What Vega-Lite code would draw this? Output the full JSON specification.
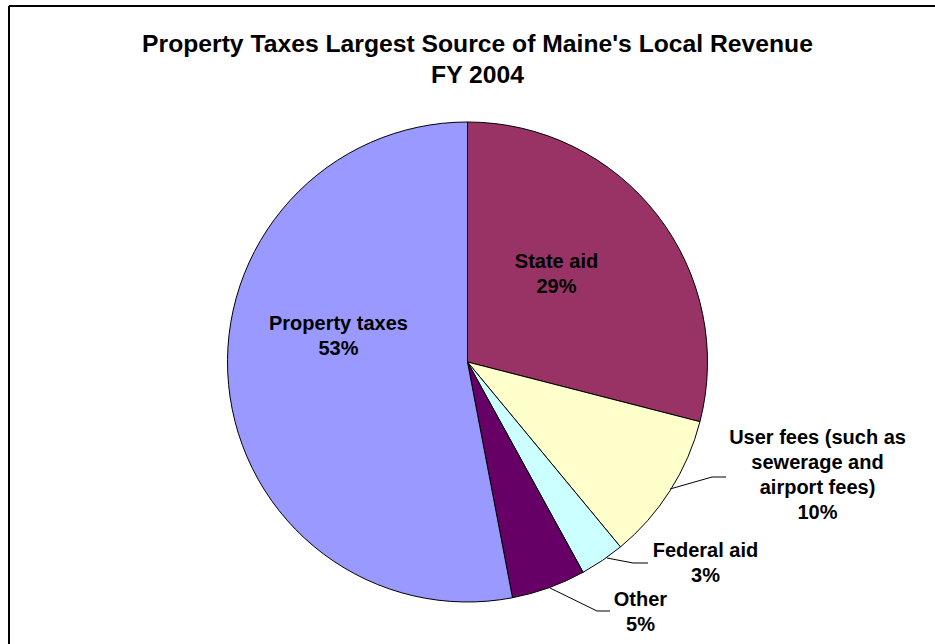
{
  "$schema": "https://vega.github.io/schema/vega-lite/v6.json",
  "width": 926,
  "height": 638,
  "autosize": {"type": "none"},
  "padding": {"left": 9, "top": 6, "right": 0, "bottom": 0},
  "background": "#ffffff",
  "config": {"view": {"stroke": null}, "font": "Liberation Sans"},
  "title": {
    "text": ["Property Taxes Largest Source of Maine's Local Revenue", "FY 2004"],
    "font": "Liberation Sans",
    "fontSize": 24.7,
    "fontWeight": "bold",
    "lineHeight": 31.5,
    "color": "#000000",
    "anchor": "middle",
    "frame": "group",
    "baseline": "bottom",
    "offset": -108,
    "dx": 5.5
  },
  "data": {
    "values": [
      {"category": "State aid", "label": "State aid", "value": 29, "idx": 1},
      {"category": "User fees", "label": "User fees (such as\nsewerage and\nairport fees)", "value": 10, "idx": 2},
      {"category": "Federal aid", "label": "Federal aid", "value": 3, "idx": 3},
      {"category": "Other", "label": "Other", "value": 5, "idx": 4},
      {"category": "Property taxes", "label": "Property taxes", "value": 53, "idx": 5}
    ]
  },
  "transform": [{"calculate": "datum.label + '\\n' + datum.value + '%'", "as": "txt"}],
  "layer": [
    {
      "mark": {"type": "arc", "radius": 240, "stroke": "#000000", "strokeWidth": 1},
      "encoding": {
        "theta": {"field": "value", "type": "quantitative", "stack": true},
        "order": {"field": "idx", "type": "quantitative"},
        "color": {
          "field": "category",
          "type": "nominal",
          "scale": {
            "domain": ["State aid", "User fees", "Federal aid", "Other", "Property taxes"],
            "range": ["#993366", "#FFFFCC", "#CCFFFF", "#660066", "#9999FF"]
          },
          "legend": null
        },
        "x": {"datum": 0, "type": "quantitative", "scale": {"domain": [-1.9104, 1.9479], "nice": false, "zero": false}, "axis": null},
        "y": {"datum": 0, "type": "quantitative", "scale": {"domain": [-1.175, 1.4833], "nice": false, "zero": false}, "axis": null}
      }
    },
    {
      "mark": {"type": "text", "radius": 124.8, "dx": -9.6, "dy": -23.5, "fontSize": 20, "fontWeight": "bold", "lineBreak": "\n", "lineHeight": 25, "align": "center", "baseline": "middle", "fill": "#000000"},
      "encoding": {
        "theta": {"field": "value", "type": "quantitative", "stack": true},
        "order": {"field": "idx", "type": "quantitative"},
        "x": {"datum": 0, "type": "quantitative"},
        "y": {"datum": 0, "type": "quantitative"},
        "text": {"condition": {"test": "datum.category === 'State aid'", "field": "txt"}, "value": ""}
      }
    },
    {
      "mark": {"type": "text", "radius": 131.5, "dx": 1.9, "dy": -50.4, "fontSize": 20, "fontWeight": "bold", "lineBreak": "\n", "lineHeight": 25, "align": "center", "baseline": "middle", "fill": "#000000"},
      "encoding": {
        "theta": {"field": "value", "type": "quantitative", "stack": true},
        "order": {"field": "idx", "type": "quantitative"},
        "x": {"datum": 0, "type": "quantitative"},
        "y": {"datum": 0, "type": "quantitative"},
        "text": {"condition": {"test": "datum.category === 'Property taxes'", "field": "txt"}, "value": ""}
      }
    },
    {
      "mark": {"type": "text", "radius": 368, "dx": 39.3, "dy": -120.9, "fontSize": 20, "fontWeight": "bold", "lineBreak": "\n", "lineHeight": 25, "align": "center", "baseline": "middle", "fill": "#000000"},
      "encoding": {
        "theta": {"field": "value", "type": "quantitative", "stack": true},
        "order": {"field": "idx", "type": "quantitative"},
        "x": {"datum": 0, "type": "quantitative"},
        "y": {"datum": 0, "type": "quantitative"},
        "text": {"condition": {"test": "datum.category === 'User fees'", "field": "txt"}, "value": ""}
      }
    },
    {
      "mark": {"type": "text", "radius": 311.8, "dx": 62.7, "dy": -68.9, "fontSize": 20, "fontWeight": "bold", "lineBreak": "\n", "lineHeight": 25, "align": "center", "baseline": "middle", "fill": "#000000"},
      "encoding": {
        "theta": {"field": "value", "type": "quantitative", "stack": true},
        "order": {"field": "idx", "type": "quantitative"},
        "x": {"datum": 0, "type": "quantitative"},
        "y": {"datum": 0, "type": "quantitative"},
        "text": {"condition": {"test": "datum.category === 'Federal aid'", "field": "txt"}, "value": ""}
      }
    },
    {
      "mark": {"type": "text", "radius": 304, "dx": 70, "dy": -48.5, "fontSize": 20, "fontWeight": "bold", "lineBreak": "\n", "lineHeight": 25, "align": "center", "baseline": "middle", "fill": "#000000"},
      "encoding": {
        "theta": {"field": "value", "type": "quantitative", "stack": true},
        "order": {"field": "idx", "type": "quantitative"},
        "x": {"datum": 0, "type": "quantitative"},
        "y": {"datum": 0, "type": "quantitative"},
        "text": {"condition": {"test": "datum.category === 'Other'", "field": "txt"}, "value": ""}
      }
    },
    {
      "data": {"values": [{}]},
      "mark": {"type": "rule", "stroke": "#000000", "strokeWidth": 2},
      "encoding": {"x": {"datum": -1.9104, "type": "quantitative"}, "y": {"datum": -1.175, "type": "quantitative"}, "x2": {"datum": -1.9104}, "y2": {"datum": 1.4833}}
    },
    {
      "data": {"values": [{}]},
      "mark": {"type": "rule", "stroke": "#000000", "strokeWidth": 2},
      "encoding": {"x": {"datum": -1.9104, "type": "quantitative"}, "y": {"datum": 1.4833, "type": "quantitative"}, "x2": {"datum": 1.9479}, "y2": {"datum": 1.4833}}
    },
    {
      "data": {"values": [{}]},
      "mark": {"type": "rule", "stroke": "#000000", "strokeWidth": 1},
      "encoding": {"x": {"datum": 0.8438, "type": "quantitative"}, "y": {"datum": -0.5292, "type": "quantitative"}, "x2": {"datum": 1.0188}, "y2": {"datum": -0.4792}}
    },
    {
      "data": {"values": [{}]},
      "mark": {"type": "rule", "stroke": "#000000", "strokeWidth": 1},
      "encoding": {"x": {"datum": 1.0188, "type": "quantitative"}, "y": {"datum": -0.4792, "type": "quantitative"}, "x2": {"datum": 1.0771}, "y2": {"datum": -0.4792}}
    },
    {
      "data": {"values": [{}]},
      "mark": {"type": "rule", "stroke": "#000000", "strokeWidth": 1},
      "encoding": {"x": {"datum": 0.5813, "type": "quantitative"}, "y": {"datum": -0.8167, "type": "quantitative"}, "x2": {"datum": 0.6896}, "y2": {"datum": -0.8375}}
    },
    {
      "data": {"values": [{}]},
      "mark": {"type": "rule", "stroke": "#000000", "strokeWidth": 1},
      "encoding": {"x": {"datum": 0.6896, "type": "quantitative"}, "y": {"datum": -0.8375, "type": "quantitative"}, "x2": {"datum": 0.7521}, "y2": {"datum": -0.8375}}
    },
    {
      "data": {"values": [{}]},
      "mark": {"type": "rule", "stroke": "#000000", "strokeWidth": 1},
      "encoding": {"x": {"datum": 0.3438, "type": "quantitative"}, "y": {"datum": -0.9417, "type": "quantitative"}, "x2": {"datum": 0.5396}, "y2": {"datum": -1.0375}}
    },
    {
      "data": {"values": [{}]},
      "mark": {"type": "rule", "stroke": "#000000", "strokeWidth": 1},
      "encoding": {"x": {"datum": 0.5396, "type": "quantitative"}, "y": {"datum": -1.0375, "type": "quantitative"}, "x2": {"datum": 0.5938}, "y2": {"datum": -1.0375}}
    }
  ]
}
